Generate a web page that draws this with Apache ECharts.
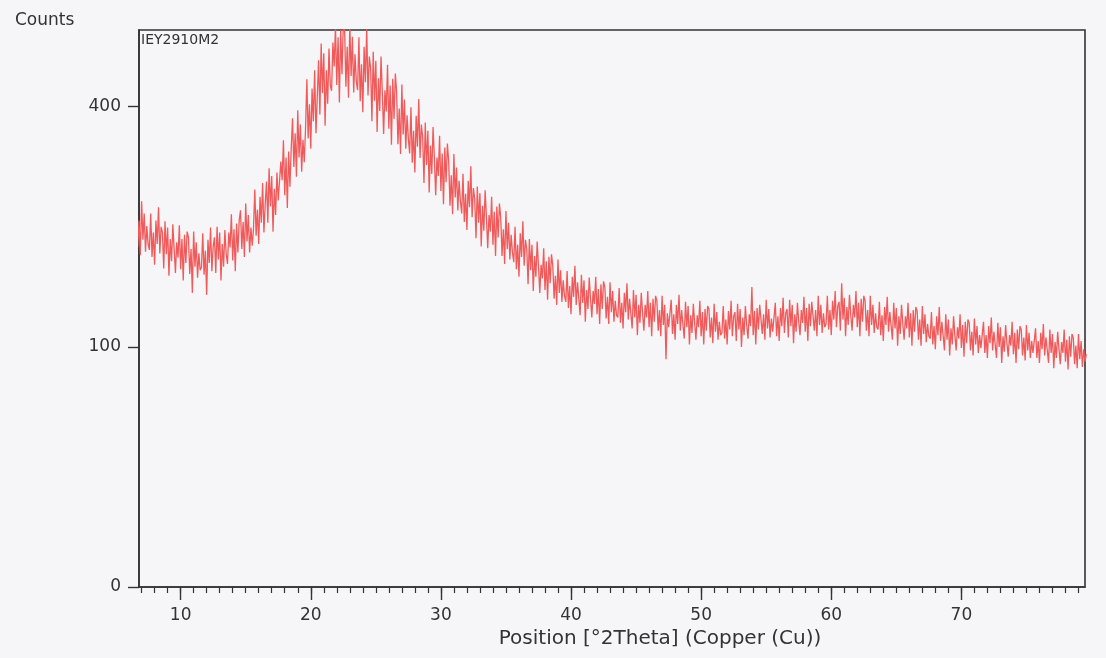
<!DOCTYPE html>
<html>
<head>
<meta charset="utf-8">
<script src="https://cdn.jsdelivr.net/npm/echarts@6/dist/echarts.min.js"></script>
<style>
html,body{margin:0;padding:0;background:#f6f6f9;}
#chart{width:1106px;height:658px;}
</style>
</head>
<body>
<div id="chart"></div>
<script>
// Scan: first position and step in °2Theta
const scanStart = 6.6;
const scanStep = 0.1;
// Counts, 10 values per degree
const counts = [
249,200,233,191,258,209,242,195,226,204,
197,242,189,218,180,233,204,250,193,225,
218,176,232,192,224,168,210,184,228,198,
171,206,188,227,175,210,163,215,182,219,
212,170,198,150,219,178,206,166,193,174,
177,217,169,196,148,209,182,224,173,201,
212,171,225,186,218,163,204,178,221,192,
181,218,200,241,185,222,173,229,194,233,
246,198,231,189,255,207,240,194,224,202,
223,274,214,247,204,264,230,283,218,254,
285,230,304,251,293,219,275,240,298,259,
260,314,287,346,266,320,249,329,278,334,
381,306,357,292,394,320,371,299,347,313,
365,447,349,404,333,431,376,463,357,416,
481,387,512,423,494,369,463,405,503,436,
427,514,470,545,437,524,407,538,456,548,
540,434,506,415,550,453,525,424,492,443,
428,524,409,474,391,506,442,543,419,488,
467,376,497,410,480,359,449,393,488,423,
356,428,392,473,364,436,339,448,380,457,
423,340,397,325,438,355,412,333,386,348,
326,399,312,361,298,385,336,413,319,371,
351,283,374,309,361,270,338,296,367,319,
266,320,293,353,272,326,254,335,284,341,
314,252,294,241,325,263,305,246,286,258,
242,296,231,268,221,286,250,307,237,276,
261,211,278,230,269,201,252,220,273,237,
199,240,219,264,203,244,190,251,212,255,
236,190,222,181,245,198,230,186,215,194,
183,225,175,203,167,217,189,232,179,209,
198,159,210,174,203,152,190,167,207,179,
150,180,165,199,153,184,143,189,160,192,
179,144,168,138,186,150,174,141,163,147,
141,173,135,157,129,167,146,179,138,161,
159,128,169,140,163,122,153,134,166,144,
126,152,139,167,129,154,120,159,134,162,
156,125,146,120,161,131,152,122,142,128,
126,155,121,140,116,150,131,160,124,144,
144,116,153,126,148,110,138,121,150,130,
114,138,126,152,117,140,109,144,122,147,
142,114,133,109,147,119,138,90,130,117,
116,143,111,129,106,138,120,148,114,133,
133,107,141,117,137,102,128,112,139,121,
106,128,117,142,109,131,102,134,114,137,
134,108,126,103,139,113,131,106,122,110,
112,137,107,124,102,132,115,142,109,127,
131,105,139,115,134,100,126,110,137,119,
107,129,118,156,110,132,102,135,115,138,
138,111,129,106,143,116,134,108,125,113,
114,140,109,127,105,135,118,145,112,130,
134,108,143,118,138,103,129,113,140,122,
110,133,121,146,113,135,105,139,118,141,
142,114,133,109,147,119,138,112,130,117,
120,147,115,133,110,142,124,152,117,137,
141,114,160,124,145,109,136,119,148,128,
114,138,126,152,117,140,109,144,122,147,
142,114,133,109,147,119,138,112,130,117,
115,141,110,128,105,136,119,146,113,131,
132,106,140,116,135,101,127,111,138,120,
106,127,116,140,108,130,101,133,113,136,
132,106,124,101,137,111,129,104,120,109,
107,131,102,118,98,127,110,136,105,122,
121,97,129,106,124,93,116,102,127,110,
97,117,107,129,99,119,92,122,103,124,
121,97,113,93,125,102,118,95,110,99,
100,122,95,110,91,118,103,126,97,113,
113,91,121,100,117,87,109,96,119,103,
92,110,101,122,94,112,87,115,98,118,
115,93,108,89,119,97,112,91,105,95,
95,116,91,105,87,112,98,120,93,108,
108,87,115,95,111,83,104,91,113,98,
86,104,95,115,88,106,82,109,92,111,
108,86,101,83,111,90,105,84,98,88,
94
];
const xTickLabels = [10,20,30,40,50,60,70];
const xMinorTicks = [];
for (let v = 7; v <= 79; v++) xMinorTicks.push(v);
const yTickLabels = [0,100,400];
const xRange = [6.8, 79.5];
const yMaxCounts = 538;

const seriesData = counts.map((c, i) => [+(scanStart + i * scanStep).toFixed(2), Math.sqrt(c)]);

const chart = echarts.init(document.getElementById('chart'), null, {renderer:'canvas'});
const font = '"DejaVu Sans", "Liberation Sans", Arial, sans-serif';
chart.setOption({
  animation:false,
  backgroundColor:'#f6f6f9',
  grid:{left:139,right:21,top:30,bottom:71,show:true,borderColor:'#333',borderWidth:1.6,backgroundColor:'transparent'},
  xAxis:[{
    type:'value', min:xRange[0], max:xRange[1], position:'bottom',
    splitLine:{show:false},
    axisLine:{show:true,lineStyle:{color:'#333',width:1.6}},
    axisTick:{show:true,length:13,lineStyle:{color:'#333',width:1.4},customValues:xTickLabels},
    axisLabel:{customValues:xTickLabels,margin:20,fontSize:17,color:'#333',fontFamily:font},
    name:'Position [°2Theta] (Copper (Cu))', nameLocation:'middle', nameGap:38,
    nameTextStyle:{fontSize:20,color:'#333',fontFamily:font,padding:[0,0,0,96]}
  },{
    type:'value', min:xRange[0], max:xRange[1], position:'bottom', offset:0,
    splitLine:{show:false},
    axisLine:{show:false},
    axisTick:{show:true,length:6,lineStyle:{color:'#333',width:1.2},customValues:xMinorTicks},
    axisLabel:{show:false}
  }],
  yAxis:{
    type:'value', min:0, max:Math.sqrt(yMaxCounts),
    splitLine:{show:false},
    axisLine:{show:true,lineStyle:{color:'#333',width:1.6}},
    axisTick:{show:true,length:11,lineStyle:{color:'#333',width:1.4},customValues:yTickLabels.map(Math.sqrt)},
    axisLabel:{customValues:yTickLabels.map(Math.sqrt),margin:18,fontSize:17,color:'#333',fontFamily:font,
      formatter:v=>String(Math.round(v*v))}
  },
  graphic:[
    {type:'text',left:15,top:12,style:{text:'Counts',font:'17px '+font,fill:'#333'}},
    {type:'text',left:141,top:33,style:{text:'IEY2910M2',font:'14px '+font,fill:'#333'}}
  ],
  series:[{
    type:'line', xAxisIndex:0, data:seriesData, showSymbol:false, clip:true,
    lineStyle:{color:'#f05a5a',width:1.3}, itemStyle:{color:'#f05a5a'}
  }]
});
</script>
</body>
</html>
